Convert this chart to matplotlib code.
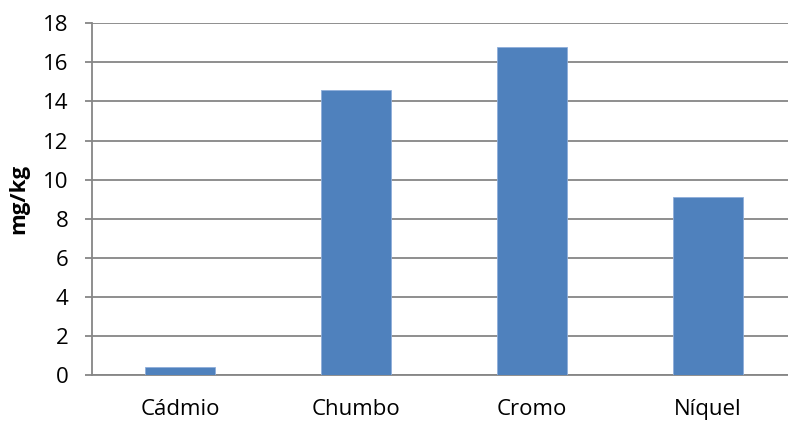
import matplotlib
matplotlib.use("Agg")
import matplotlib.pyplot as plt
import numpy as np

# Data
metais = ["Cádmio", "Chumbo", "Cromo", "Níquel"]
valores = [0.43, 14.6, 16.8, 9.1]
y_ticks = [0, 2, 4, 6, 8, 10, 12, 14, 16, 18]

plt.rcParams['font.family'] = ['Open Sans', 'DejaVu Sans']

fig = plt.figure(figsize=(7.88, 4.21), dpi=100)
ax = fig.add_axes([0.1168, 0.1093, 0.8832, 0.8354])

x = np.arange(len(metais))
ax.bar(x, valores, width=0.4, color='#4F81BD', edgecolor='#8FAEDA', linewidth=0.6, zorder=3)

ax.set_xlim(-0.5, 3.455)
ax.set_ylim(0, 18)
ax.set_yticks(y_ticks)
ax.set_xticks(x)
ax.set_xticklabels(metais)

ax.yaxis.grid(True, color='#868686', linewidth=1.3, zorder=0)
for s in ['top', 'right']:
    ax.spines[s].set_visible(False)
for s in ['left', 'bottom']:
    ax.spines[s].set_color('#868686')
    ax.spines[s].set_linewidth(1.3)

ax.tick_params(axis='y', length=5, width=1.3, color='#868686', pad=12, labelsize=16)
ax.tick_params(axis='x', length=0, pad=17, labelsize=16)
ax.set_ylabel('mg/kg', fontweight='bold', fontsize=16, labelpad=10)

fig.savefig("out.png", dpi=100)
plt.close()
